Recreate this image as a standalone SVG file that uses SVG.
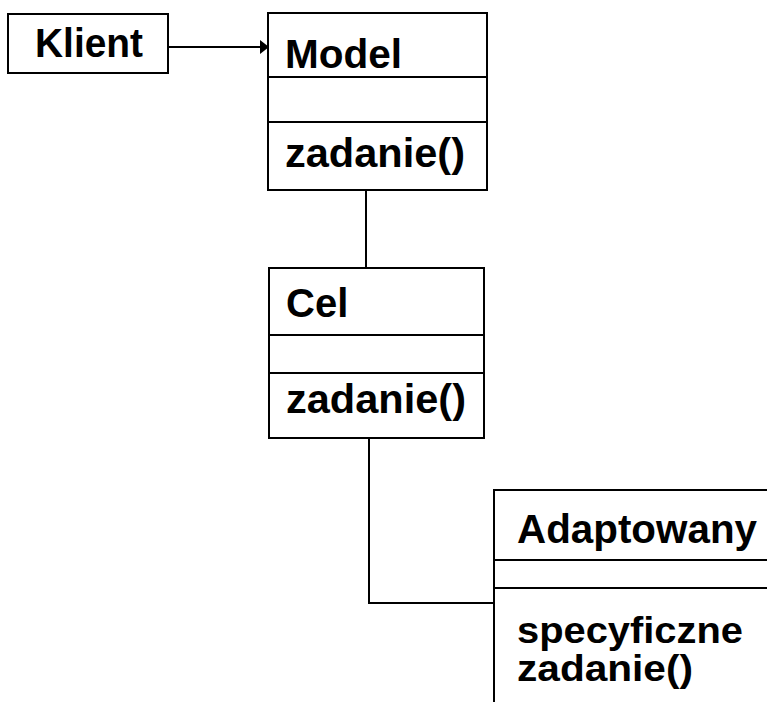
<svg xmlns="http://www.w3.org/2000/svg" width="767" height="702" viewBox="0 0 767 702">
<style>
.box{fill:#fff;stroke:#000;stroke-width:2}
.ln{fill:none;stroke:#000;stroke-width:2}
.t{font-family:"Liberation Sans",Arial,sans-serif;font-weight:bold;font-size:40px;fill:#000}
.s{font-size:36px}
</style>
<defs>
<marker id="ah" markerWidth="10" markerHeight="14" refX="9" refY="7" orient="auto" markerUnits="userSpaceOnUse">
<polygon points="0,0 9,7 0,14" fill="#000"/>
</marker>
</defs>
<rect width="767" height="702" fill="#fff"/>
<g id="connectors">
<line class="ln" x1="168" y1="47" x2="269" y2="47" marker-end="url(#ah)"/>
<line class="ln" x1="366" y1="190" x2="366" y2="268"/>
<polyline class="ln" points="369,438 369,603 494,603"/>
</g>
<g id="klient">
<rect class="box" x="8" y="14" width="160" height="59"/>
<text class="t" x="35" y="57" textLength="108" lengthAdjust="spacingAndGlyphs">Klient</text>
</g>
<g id="model">
<rect class="box" x="268" y="13" width="219" height="177"/>
<line class="ln" x1="268" y1="77" x2="487" y2="77"/>
<line class="ln" x1="268" y1="122" x2="487" y2="122"/>
<text class="t" x="285" y="68" textLength="117" lengthAdjust="spacingAndGlyphs">Model</text>
<text class="t" x="285" y="167" textLength="180" lengthAdjust="spacingAndGlyphs">zadanie()</text>
</g>
<g id="cel">
<rect class="box" x="269" y="268" width="215" height="170"/>
<line class="ln" x1="269" y1="335" x2="484" y2="335"/>
<line class="ln" x1="269" y1="373" x2="484" y2="373"/>
<text class="t" x="286" y="317">Cel</text>
<text class="t" x="286" y="413" textLength="180" lengthAdjust="spacingAndGlyphs">zadanie()</text>
</g>
<g id="adaptowany">
<rect class="box" x="494" y="490" width="290" height="230"/>
<line class="ln" x1="494" y1="560" x2="767" y2="560"/>
<line class="ln" x1="494" y1="588" x2="767" y2="588"/>
<text class="t" x="517" y="543" textLength="240" lengthAdjust="spacingAndGlyphs">Adaptowany</text>
<text class="t s"><tspan x="517" y="643" textLength="226" lengthAdjust="spacingAndGlyphs">specyficzne</tspan><tspan x="517" y="681" textLength="176" lengthAdjust="spacingAndGlyphs">zadanie()</tspan></text>
</g>
</svg>
